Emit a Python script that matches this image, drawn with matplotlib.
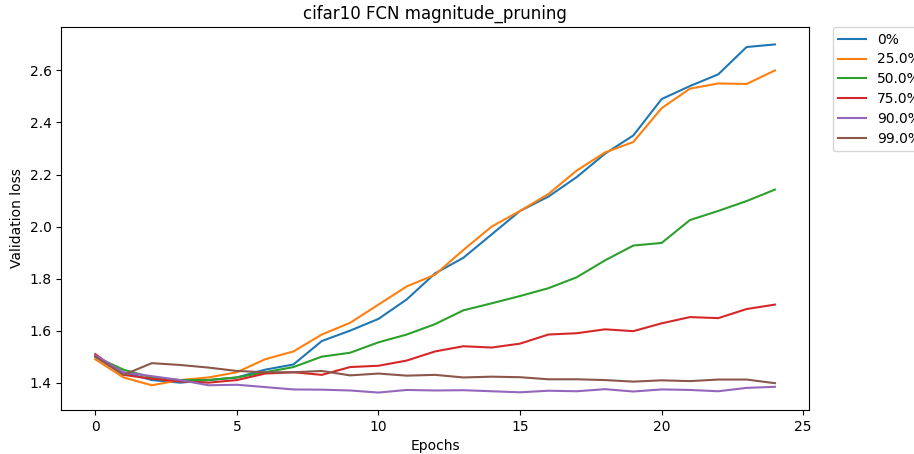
import matplotlib
matplotlib.use("Agg")
import matplotlib.pyplot as plt

epochs = list(range(25))

loss_0 = [1.50, 1.44, 1.41, 1.40, 1.41, 1.42, 1.45, 1.47, 1.56, 1.60, 1.645, 1.72, 1.82,
          1.88, 1.97, 2.06, 2.115, 2.19, 2.28, 2.35, 2.49, 2.54, 2.585, 2.69, 2.70]
loss_25 = [1.49, 1.42, 1.39, 1.41, 1.42, 1.44, 1.49, 1.52, 1.585, 1.63, 1.70, 1.77, 1.815,
           1.91, 2.00, 2.06, 2.125, 2.215, 2.285, 2.325, 2.455, 2.53, 2.55, 2.548, 2.60]
loss_50 = [1.50, 1.45, 1.42, 1.41, 1.41, 1.42, 1.44, 1.46, 1.50, 1.515, 1.555, 1.585, 1.625,
           1.678, 1.705, 1.733, 1.763, 1.805, 1.87, 1.927, 1.937, 2.025, 2.06, 2.098, 2.142]
loss_75 = [1.51, 1.43, 1.415, 1.405, 1.40, 1.41, 1.435, 1.44, 1.43, 1.46, 1.465, 1.485, 1.52,
           1.54, 1.535, 1.55, 1.585, 1.59, 1.605, 1.598, 1.628, 1.652, 1.648, 1.683, 1.70]
loss_90 = [1.505, 1.44, 1.425, 1.41, 1.39, 1.392, 1.383, 1.374, 1.373, 1.37, 1.362, 1.372, 1.37,
           1.371, 1.367, 1.363, 1.369, 1.367, 1.375, 1.366, 1.374, 1.372, 1.367, 1.38, 1.384]
loss_99 = [1.50, 1.43, 1.475, 1.468, 1.458, 1.445, 1.44, 1.44, 1.445, 1.428, 1.435, 1.427, 1.43,
           1.42, 1.423, 1.421, 1.413, 1.413, 1.41, 1.404, 1.409, 1.406, 1.412, 1.412, 1.398]

labels = ["0%", "25.0%", "50.0%", "75.0%", "90.0%", "99.0%"]
series = [loss_0, loss_25, loss_50, loss_75, loss_90, loss_99]

fig, ax = plt.subplots(figsize=(9.14, 4.54), dpi=100)
fig.subplots_adjust(left=0.067, right=0.885, top=0.9405, bottom=0.097)

for label, values in zip(labels, series):
    ax.plot(epochs, values, label=label)

ax.set_title("cifar10 FCN magnitude_pruning")
ax.set_xlabel("Epochs")
ax.set_ylabel("Validation loss")
# legend sits outside the axes, to the right
ax.legend(bbox_to_anchor=(1.032, 1), loc="upper left", borderaxespad=0,
          labelspacing=0.42)

fig.savefig("out.png")
